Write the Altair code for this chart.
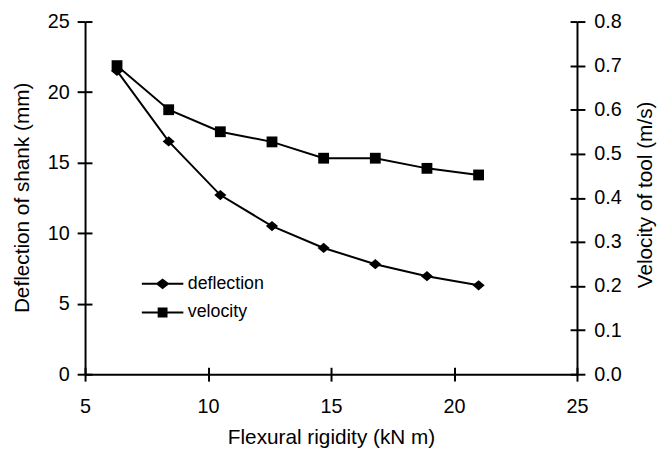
import altair as alt
import pandas as pd

# ---- data ----
rigidity = [6.3, 8.4, 10.5, 12.6, 14.7, 16.8, 18.9, 21.0]
deflection = [21.5, 16.5, 12.7, 10.5, 8.95, 7.8, 6.95, 6.3]
velocity = [0.70, 0.60, 0.55, 0.527, 0.49, 0.49, 0.467, 0.452]
series_names = ["deflection", "velocity"]

x_ticks = [5, 10, 15, 20, 25]
defl_ticks = [0, 5, 10, 15, 20, 25]
vel_ticks = [0.0, 0.1, 0.2, 0.3, 0.4, 0.5, 0.6, 0.7, 0.8]

df = pd.DataFrame({"rigidity": rigidity, "deflection": deflection, "velocity": velocity})
df_long = pd.DataFrame({
    "rigidity": rigidity + rigidity,
    "value": deflection + [v * 25 / 0.8 for v in velocity],
    "series": [series_names[0]] * len(rigidity) + [series_names[1]] * len(rigidity),
})

FONT = "Liberation Sans"
W, H = 498, 357

x_scale = alt.Scale(domain=[5, 25], nice=False, zero=False)
yd_scale = alt.Scale(domain=[0, 25], nice=False)
yv_scale = alt.Scale(domain=[0, 0.8], nice=False)

common_axis = dict(domainColor="black", tickColor="black", labelColor="black",
                   titleColor="black", domainWidth=2, tickWidth=2, grid=False,
                   labelFont=FONT, titleFont=FONT, labelFontSize=20, titleFontSize=21,
                   titleFontWeight="normal")

x_axis_main = alt.Axis(values=x_ticks, format="d", tickSize=7, labelPadding=16,
                       title="Flexural rigidity (kN m)", titleY=70,
                       titleBaseline="alphabetic", labelFlush=False, **common_axis)
yd_axis_main = alt.Axis(values=defl_ticks, format="d", orient="left", tickSize=8,
                        labelPadding=8, title="Deflection of shank (mm)", titleX=-57,
                        titleY=178, titleAngle=270, titleBaseline="alphabetic",
                        labelFlush=False, **common_axis)
yv_axis_main = alt.Axis(values=vel_ticks, format=".1f", orient="right", tickSize=8,
                        labelPadding=9, title="Velocity of tool (m/s)", titleX=75,
                        titleY=175, titleAngle=270, titleBaseline="alphabetic",
                        labelFlush=False, **common_axis)

inner = dict(domain=False, labels=False, tickSize=7, tickWidth=2,
             tickColor="black", grid=False)
x_axis_inner = alt.Axis(values=x_ticks, orient="bottom", offset=-7, title="", **inner)
yd_axis_inner = alt.Axis(values=defl_ticks, orient="left", offset=-7, title="", **inner)
yv_axis_inner = alt.Axis(values=vel_ticks, orient="right", offset=-7, title="", **inner)

diamond_mark = "M-1,0L0,-0.85L1,0L0,0.85Z"
square_mark = "M-1,-1H1V1H-1Z"

defl_layer = alt.Chart(df).mark_line(
    color="black", strokeWidth=2,
    point=alt.OverlayMarkDef(shape=diamond_mark, size=150, filled=True, color="black",
                             opacity=1),
).encode(
    x=alt.X("rigidity:Q", scale=x_scale, axis=x_axis_main),
    y=alt.Y("deflection:Q", scale=yd_scale, axis=yd_axis_main),
)

vel_layer = alt.Chart(df).mark_line(
    color="black", strokeWidth=2,
    point=alt.OverlayMarkDef(shape=square_mark, size=120, filled=True, color="black",
                             opacity=1),
).encode(
    x=alt.X("rigidity:Q", scale=x_scale, axis=None),
    y=alt.Y("velocity:Q", scale=yv_scale, axis=yv_axis_main),
)

defl_inner = alt.Chart(df).mark_line(opacity=0).encode(
    x=alt.X("rigidity:Q", scale=x_scale, axis=x_axis_inner),
    y=alt.Y("deflection:Q", scale=yd_scale, axis=yd_axis_inner),
)

vel_inner = alt.Chart(df).mark_line(opacity=0).encode(
    x=alt.X("rigidity:Q", scale=x_scale, axis=None),
    y=alt.Y("velocity:Q", scale=yv_scale, axis=yv_axis_inner),
)

leg_diamond = "M-2,0H2M0,-0.4L0.52,0L0,0.4L-0.52,0Z"
leg_square = "M-2,0H2M-0.38,-0.38H0.38V0.38H-0.38Z"

# legend-only layer: no rows are drawn, the legend comes from the explicit domain
legend_layer = alt.Chart(df_long).transform_filter("false").mark_point(
    filled=True, color="black", stroke="black", strokeWidth=2, opacity=1
).encode(
    x=alt.X("rigidity:Q", scale=x_scale, axis=None),
    y=alt.Y("value:Q", scale=yd_scale, axis=None),
    shape=alt.Shape(
        "series:N",
        scale=alt.Scale(domain=series_names, range=[leg_diamond, leg_square]),
        legend=alt.Legend(
            orient="none", legendX=67, legendY=254, title=None, padding=0,
            symbolSize=441, labelOffset=14, rowPadding=8, symbolOpacity=1,
            symbolStrokeWidth=2, labelFont=FONT, labelFontSize=18,
            labelColor="black",
        ),
    ),
)

chart = alt.layer(
    defl_layer, vel_layer, defl_inner, vel_inner, legend_layer
).resolve_scale(
    x="independent", y="independent"
).resolve_axis(
    x="independent", y="independent"
).properties(
    width=W, height=H,
    autosize=alt.AutoSizeParams(type="none"),
    padding={"left": 78, "top": 11, "right": 82, "bottom": 74},
    background="white",
).configure_view(stroke=None)

chart.save("out.html", embed_options={"renderer": "svg", "actions": False})
